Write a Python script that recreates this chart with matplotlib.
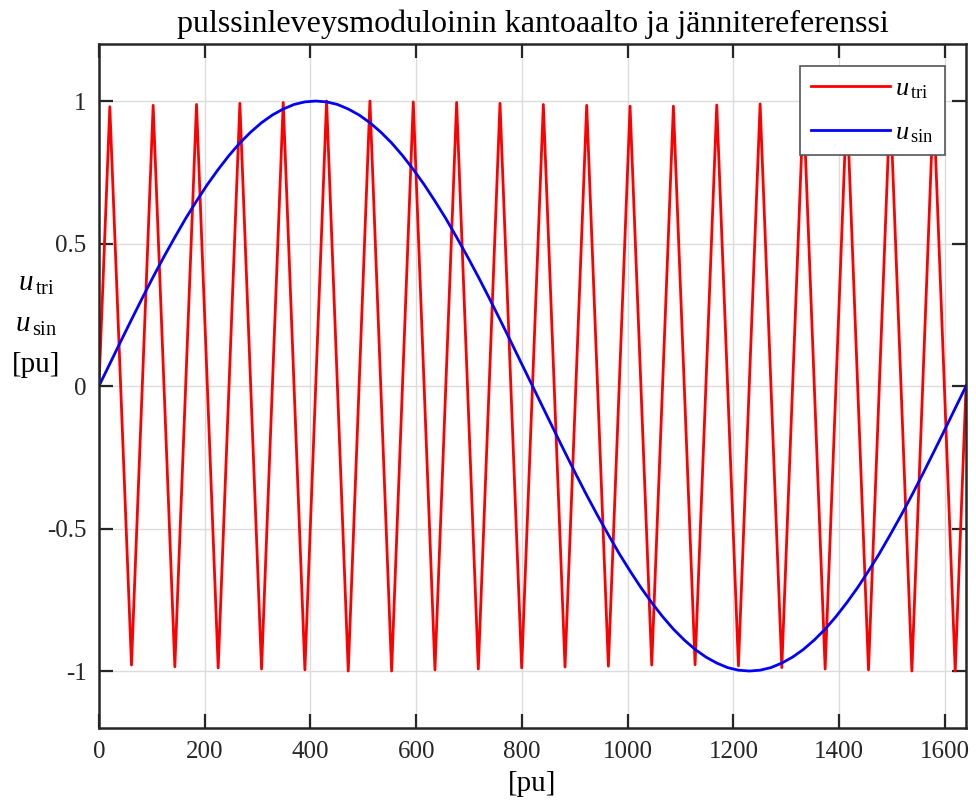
import matplotlib
matplotlib.use('Agg')
import matplotlib.pyplot as plt
import numpy as np

plt.rcParams['font.family'] = ['Liberation Serif', 'DejaVu Serif']
plt.rcParams['mathtext.fontset'] = 'custom'
plt.rcParams['mathtext.rm'] = 'Liberation Serif'
plt.rcParams['mathtext.it'] = 'Liberation Serif:italic'
plt.rcParams['axes.unicode_minus'] = False

# carrier (triangle) vertices
tri_x = [0, 20.5, 61.5, 102.5, 143.5, 184.5, 225.5, 266.5, 307.5, 348.5, 389.5,
         430.5, 471.5, 512.5, 553.5, 594.5, 635.5, 676.5, 717.5, 758.5, 799.5,
         840.5, 881.5, 922.5, 963.5, 1004.5, 1045.5, 1086.5, 1127.5, 1168.5, 1209.5,
         1250.5, 1291.5, 1332.5, 1373.5, 1414.5, 1455.5, 1496.5, 1537.5, 1578.5, 1619.5,
         1640]
tri_peaks = [0.980, 0.985, 0.988, 0.992, 0.995, 1.000, 1.000, 0.997, 0.995, 0.992,
             0.988, 0.985, 0.982, 0.982, 0.986, 0.990, 0.993, 0.997, 1.000, 0.998]
tri_troughs = [-0.979, -0.985, -0.989, -0.993, -0.996, -1.000, -1.000, -0.996, -0.993, -0.989,
               -0.986, -0.983, -0.979, -0.978, -0.982, -0.988, -0.993, -0.996, -1.000, -1.000]

# reference (sine) read every 20.5 pu
sin_x = [20.5 * i for i in range(81)]
sin_y = [0.000, 0.078, 0.156, 0.233, 0.309, 0.383, 0.454, 0.522, 0.588, 0.649,
         0.707, 0.760, 0.809, 0.853, 0.891, 0.924, 0.951, 0.972, 0.988, 0.997,
         1.000, 0.997, 0.988, 0.972, 0.951, 0.924, 0.891, 0.853, 0.809, 0.760,
         0.707, 0.649, 0.588, 0.522, 0.454, 0.383, 0.309, 0.233, 0.156, 0.078,
         0.000, -0.078, -0.156, -0.233, -0.309, -0.383, -0.454, -0.522, -0.588, -0.649,
         -0.707, -0.760, -0.809, -0.853, -0.891, -0.924, -0.951, -0.972, -0.988, -0.997,
         -1.000, -0.997, -0.988, -0.972, -0.951, -0.924, -0.891, -0.853, -0.809, -0.760,
         -0.707, -0.649, -0.588, -0.522, -0.454, -0.383, -0.309, -0.233, -0.156, -0.078,
         0.000]

tri_y = [0.0]
for p, t in zip(tri_peaks, tri_troughs):
    tri_y += [p, t]
tri_y.append(0.0)

fig = plt.figure(figsize=(9.76, 8.11), dpi=100)
ax = fig.add_axes([0.1014, 0.1023, 0.8884, 0.8434])

ax.plot(tri_x, tri_y, color='#ff0000', lw=2.0, label=r'$\mathit{u}_{\,\mathrm{tri}}$')
ax.plot(sin_x, sin_y, color='#0000ff', lw=2.0, label=r'$\mathit{u}_{\,\mathrm{sin}}$')

ax.set_xlim(0, 1640)
ax.set_ylim(-1.2, 1.2)
ax.set_xticks(np.arange(0, 1601, 200))
ax.set_yticks([-1, -0.5, 0, 0.5, 1])
ax.set_yticklabels(['-1', '-0.5', '0', '0.5', '1'])
ax.grid(True, color='#dcdcdc', lw=1.0)
ax.set_axisbelow(True)
ax.tick_params(direction='in', length=10, width=1.6, labelsize=18, colors='#262626',
               top=True, right=True, pad=9)
for s in ax.spines.values():
    s.set_color('#262626')
    s.set_linewidth(1.8)

ax.set_title('pulssinleveysmoduloinin kantoaalto ja jännitereferenssi', fontsize=23, pad=9)
ax.set_xlabel('[pu]', fontsize=21, labelpad=6)
ax.set_ylabel(r'$\mathit{u}_{\,\mathrm{tri}}$' + '\n' + r'$\mathit{u}_{\,\mathrm{sin}}$' + '\n[pu]',
              fontsize=21, rotation=0, ha='center', va='center', labelpad=10,
              linespacing=1.7)
ax.yaxis.set_label_coords(-0.072, 0.59)

leg = ax.legend(loc='upper right', fontsize=19, fancybox=False, framealpha=1,
                edgecolor='#555555', borderpad=0.4, handlelength=3.0, handletextpad=0.2,
                labelspacing=0.75, borderaxespad=0, bbox_to_anchor=(0.9755, 0.9675))
leg.get_frame().set_linewidth(1.2)

fig.savefig('out.png', dpi=100)
